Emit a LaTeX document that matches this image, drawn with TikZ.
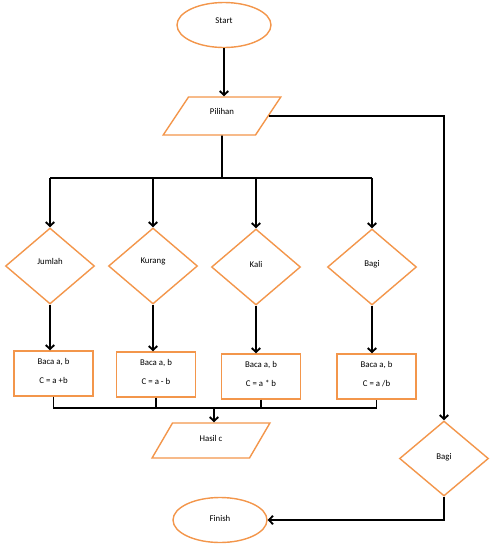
\documentclass[tikz,border=0pt]{standalone}
\usepackage{fontspec}
\setmainfont{Carlito}
\usetikzlibrary{shapes.geometric,arrows.meta}
\definecolor{og}{RGB}{243,150,75}
\begin{document}
\begin{tikzpicture}[x=1pt,y=-1pt,
  shp/.style={draw=og,line width=1.4pt,inner sep=0pt,font=\fontsize{8.8}{10}\selectfont,fill=white},
  lift/.style={text depth=#1},
  term/.style={shp,ellipse,minimum width=94pt,minimum height=45pt},
  io/.style={shp,trapezium,trapezium left angle=59,trapezium right angle=121,trapezium stretches=true,minimum width=118pt,minimum height=38pt},
  dec/.style={shp,diamond,minimum width=89pt,minimum height=76pt},
  proc/.style={shp,rectangle,minimum width=79pt,minimum height=45pt,align=center},
  conn/.style={line width=1.9pt},
  arr/.style={conn,-{Straight Barb[length=4pt,width=8.5pt]}}]
\useasboundingbox (0,0) rectangle (491,550);
\node[term,lift=9pt] (start) at (224,25) {Start};
\node[io,lift=9pt] (pil) at (222,116) {Pilihan};
\node[dec,lift=10pt] (d1) at (50,266) {Jumlah};
\node[dec,lift=10pt] (d2) at (153,266) {Kurang};
\node[dec,lift=6pt] (d3) at (256,267) {Kali};
\node[dec,lift=7pt] (d4) at (372,267) {Bagi};
\node[proc,lift=5pt] (p1) at (53.5,373.5) {Baca a, b\\[9pt]C = a +b};
\node[proc,lift=5pt] (p2) at (156,374.5) {Baca a, b\\[9pt]C = a - b};
\node[proc,lift=5pt] (p3) at (261,376.5) {Baca a, b\\[9pt]C = a * b};
\node[proc,lift=5pt] (p4) at (376.5,376.5) {Baca a, b\\[9pt]C = a /b};
\node[io,minimum height=35pt,lift=4pt] (hasil) at (211,440.5) {Hasil c};
\node[dec,minimum height=75pt,lift=5pt] (db) at (444,458.5) {Bagi};
\node[term,lift=4pt] (fin) at (220,520) {Finish};
\coordinate (br) at (222,178);
\coordinate (mg) at (214,408);
\draw[arr] (start.south) -- (start.south |- pil.north);
\draw[conn] (pil.south) -- (br);
\draw[conn] (d1.north |- br) -- (d4.north |- br);
\foreach \d in {d1,d2,d3,d4} \draw[arr] (\d.north |- br) -- (\d.north);
\foreach \d/\p in {d1/p1,d2/p2,d3/p3,d4/p4} \draw[arr] (\d.south) -- (\d.south |- \p.north);
\draw[arr] (pil.east) -| (db.north);
\draw[conn] (p1.south) -- (p1.south |- mg) -- (p4.south |- mg) -- (p4.south);
\draw[conn] (p2.south) -- (p2.south |- mg);
\draw[conn] (p3.south) -- (p3.south |- mg);
\draw[arr] (mg) -- (mg |- hasil.north);
\draw[arr] (db.south) |- (fin.east);
\end{tikzpicture}
\end{document}
